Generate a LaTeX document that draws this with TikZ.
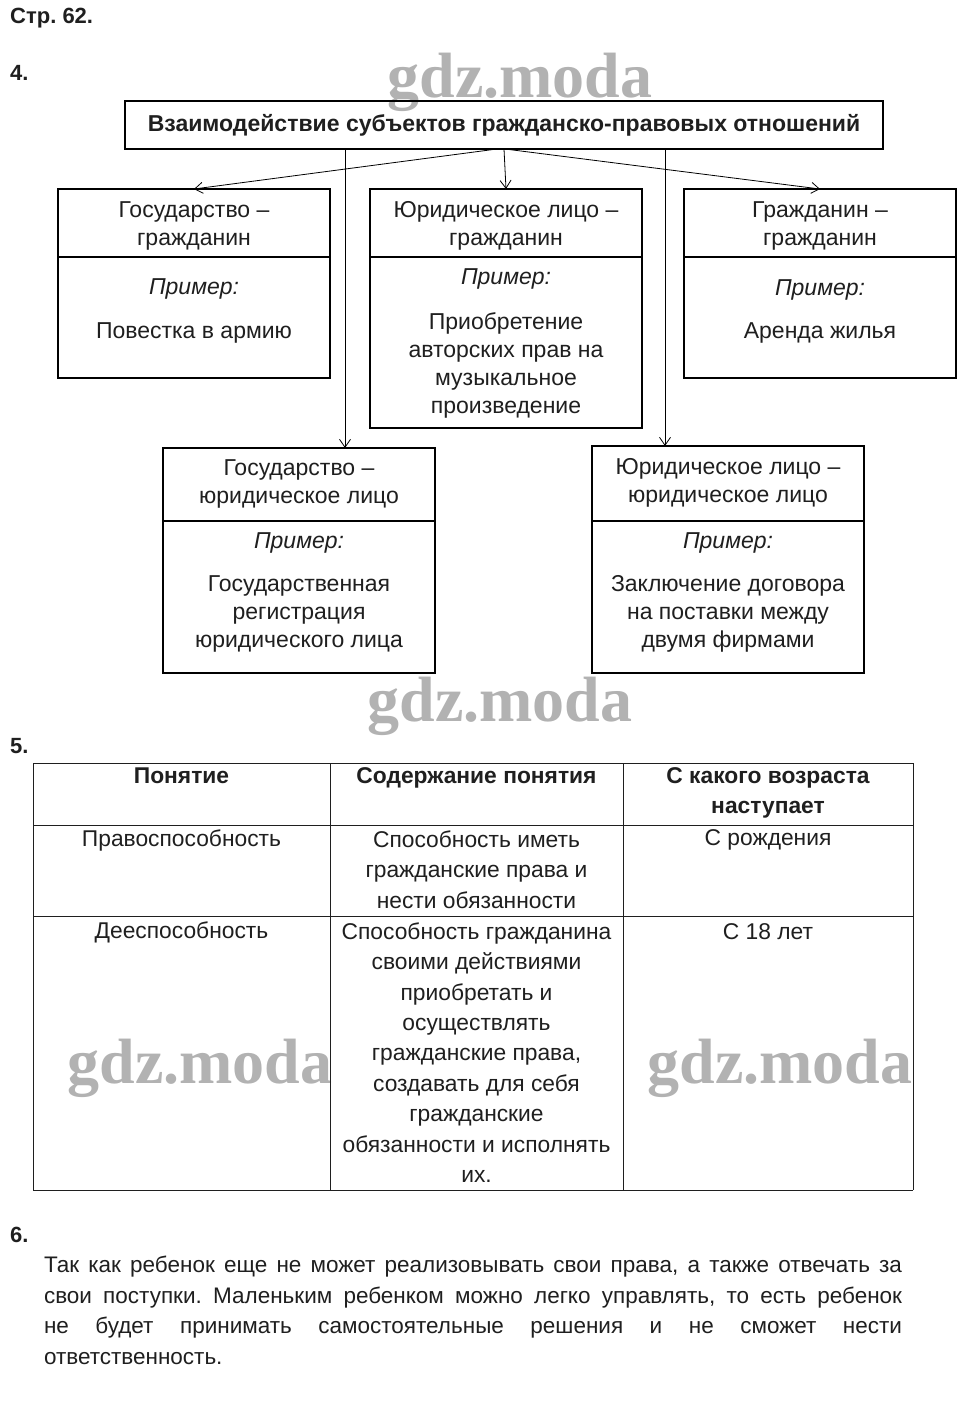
\documentclass[tikz,border=0pt]{standalone}
\usepackage{fontspec}
\setmainfont{Liberation Sans}
\newfontfamily\wmfont{Liberation Serif}
\usetikzlibrary{arrows.meta,calc}
\definecolor{ink}{rgb}{0.12,0.12,0.12}
\frenchspacing
\begin{document}
\frenchspacing
\begin{tikzpicture}[x=1pt,y=-1pt,
  box/.style={draw, line width=1.6pt, minimum width=272pt, inner sep=0pt, outer sep=0pt},
  txt/.style={font=\fontsize{23}{28}\selectfont, align=center, inner sep=0pt, text=ink},
  ex/.style={font=\fontsize{23}{28}\selectfont\itshape, align=center, inner sep=0pt, text=ink},
  arr/.style={-{Straight Barb[length=8pt,width=11pt]}, line width=0.8pt},
  cell/.style={font=\fontsize{22.8}{30.4}\selectfont, align=center, inner sep=0pt, text=ink},
  hcell/.style={cell, font=\fontsize{22.8}{30.4}\selectfont\bfseries},
  tline/.style={line width=0.9pt, draw=ink},
  lbl/.style={anchor=west, inner sep=0pt, font=\fontsize{22}{24}\selectfont\bfseries, text=ink},
  wm/.style={inner sep=0pt, font=\wmfont\bfseries\fontsize{64}{64}\selectfont, text=gray!60}
]
\useasboundingbox (0,0) rectangle (969,1413);
\fill[white] (0,0) rectangle (969,1413);

% labels
\node[lbl] (p62) at (10,18) {Стр. 62.};
\node[lbl] (n4) at (10,73) {4.};
\node[lbl] (n5) at (10,746) {5.};
\node[lbl] (n6) at (10,1235) {6.};

% watermarks
\node[wm] (wm1) at (520,82) {gdz.moda};
\node[wm] (wm2) at (500,706) {gdz.moda};
\node[wm] (wm3) at (200,1068) {gdz.moda};
\node[wm] (wm4) at (780,1068) {gdz.moda};

% top box
\node[box, minimum width=758pt, minimum height=48pt, font=\fontsize{23}{24}\selectfont\bfseries, text=ink] (top) at (504,125) {Взаимодействие субъектов гражданско-правовых отношений};

% row 1
\node[box, minimum height=189pt] (A) at (194,283.5) {};
\node[box, minimum height=239pt] (B) at (506,308.5) {};
\node[box, minimum height=189pt] (C) at (820,283.5) {};
% row 2
\node[box, minimum height=225pt] (D) at (299,560.5) {};
\node[box, minimum height=227pt] (E) at (728,559.5) {};

% dividers
\draw[line width=1.6pt] (A.west |- 0,257) -- (A.east |- 0,257);
\draw[line width=1.6pt] (B.west |- 0,257) -- (B.east |- 0,257);
\draw[line width=1.6pt] (C.west |- 0,257) -- (C.east |- 0,257);
\draw[line width=1.6pt] (D.west |- 0,521) -- (D.east |- 0,521);
\draw[line width=1.6pt] (E.west |- 0,521) -- (E.east |- 0,521);

% texts A
\node[txt] (At) at (194,226) {Государство –\\гражданин};
\node[ex]  (Ae) at (194,289) {Пример:};
\node[txt] (Ab) at (194,333) {Повестка в армию};
% texts B
\node[txt] (Bt) at (506,226) {Юридическое лицо –\\гражданин};
\node[ex]  (Be) at (506,279) {Пример:};
\node[txt] (Bb) at (506,365) {Приобретение\\авторских прав на\\музыкальное\\произведение};
% texts C
\node[txt] (Ct) at (820,226) {Гражданин –\\гражданин};
\node[ex]  (Ce) at (820,290) {Пример:};
\node[txt] (Cb) at (820,333) {Аренда жилья};
% texts D
\node[txt] (Dt) at (299,484) {Государство –\\юридическое лицо};
\node[ex]  (De) at (299,543) {Пример:};
\node[txt] (Db) at (299,614) {Государственная\\регистрация\\юридического лица};
% texts E
\node[txt] (Et) at (728,483) {Юридическое лицо –\\юридическое лицо};
\node[ex]  (Ee) at (728,543) {Пример:};
\node[txt] (Eb) at (728,614) {Заключение договора\\на поставки между\\двумя фирмами};

% connectors
\coordinate (Dx) at ([xshift=46pt]D.north);
\coordinate (Ex) at ([xshift=-63pt]E.north);
\draw[arr] ([xshift=-7pt]top.south) -- (A.north);
\draw[arr] (top.south) -- (B.north);
\draw[arr] ([xshift=1pt]top.south) -- (C.north);
\draw[arr] (top.south -| Dx) -- (Dx);
\draw[arr] (top.south -| Ex) -- (Ex);

% table
\foreach \yy in {763,825,916,1190} \draw[tline] (33,\yy) -- (913,\yy);
\foreach \xx in {33,330,623,913} \draw[tline] (\xx,763) -- (\xx,1190);

\node[hcell] (h1) at (181.5,776) {Понятие};
\node[hcell] (h2) at (476.5,778) {Содержание понятия};
\node[hcell] (h3) at (768,793) {С какого возраста\\наступает};

\node[cell] (r1a) at (181.5,840) {Правоспособность};
\node[cell] (r1b) at (476.5,869.5) {Способность иметь\\гражданские права и\\нести обязанности};
\node[cell] (r1c) at (768,840) {С рождения};

\node[cell] (r2a) at (181.5,932) {Дееспособность};
\node[cell] (r2b) at (476.5,1052.5) {Способность гражданина\\своими действиями\\приобретать и\\осуществлять\\гражданские права,\\создавать для себя\\гражданские\\обязанности и исполнять\\их.};
\node[cell] (r2c) at (768,932) {С 18 лет};

% paragraph
\node[inner sep=0pt, text width=858pt, align=justify, font=\fontsize{22.5}{30.6}\selectfont, text=ink] (para) at (473,1310.5)
{Так как ребенок еще не может реализовывать свои права, а также отвечать за\linebreak свои поступки. Маленьким ребенком можно легко управлять, то есть ребенок\linebreak не будет принимать самостоятельные решения и не сможет нести\linebreak ответственность.};
\end{tikzpicture}
\end{document}
